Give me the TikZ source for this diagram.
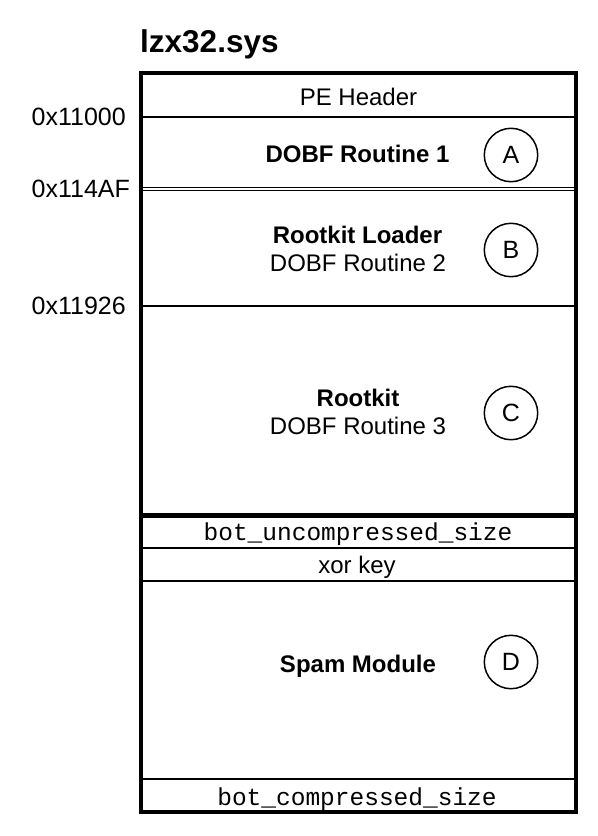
\documentclass[tikz,border=0pt]{standalone}
\usepackage{fontspec}
\setmainfont{Liberation Sans}
\setmonofont{Liberation Mono}
\begin{document}
\begin{tikzpicture}[x=1bp,y=-1bp,
  frame/.style={line width=3.5bp},
  sepline/.style={line width=2.5bp},
  thinline/.style={line width=1.6bp},
  dblline/.style={line width=1.6bp},
  txt/.style={inner sep=0pt,font=\fontsize{24bp}{28bp}\selectfont},
  btxt/.style={inner sep=0pt,font=\fontsize{24bp}{28bp}\selectfont\bfseries},
  mtxt/.style={inner sep=0pt,font=\fontsize{24.5bp}{28bp}\selectfont\ttfamily},
  tag/.style={circle,draw,line width=1.5bp,minimum size=53.4bp,inner sep=0pt,font=\fontsize{25bp}{28bp}\selectfont},
  addr/.style={anchor=west,inner sep=0pt,font=\fontsize{25bp}{28bp}\selectfont}
]
\useasboundingbox (0,0) rectangle (598,836);

% title
\node[anchor=base west,inner sep=0pt,font=\fontsize{31.5bp}{34bp}\selectfont\bfseries] (title) at (140,52.7) {lzx32.sys};

% upper box
\draw[frame] (141,73) rectangle (576,514.3);
\draw[sepline] (141,117) -- (576,117);
\draw[dblline] (141,187.5) -- (576,187.5);
\draw[dblline] (141,190.5) -- (576,190.5);
\draw[sepline] (141,306) -- (576,306);

% lower box
\draw[frame] (141,516.7) rectangle (576,812);
\draw[sepline] (141,548) -- (576,548);
\draw[thinline] (141,581) -- (576,581);
\draw[thinline] (141,779) -- (576,779);

% addresses
\node[addr] (a1) at (31.5,116.5) {0x11000};
\node[addr] (a2) at (31.5,188.5) {0x114AF};
\node[addr] (a3) at (31.5,305.5) {0x11926};

% section texts
\node[txt,anchor=base] (pe) at (358.5,105) {PE Header};
\node[btxt,anchor=base] (dobf1) at (357.5,162.7) {DOBF Routine 1};
\node[btxt,anchor=base] (loader) at (357.5,243.3) {Rootkit Loader};
\node[txt,anchor=base] (dobf2) at (358,271.7) {DOBF Routine 2};
\node[btxt,anchor=base] (rootkit) at (358,406) {Rootkit};
\node[txt,anchor=base] (dobf3) at (358,434) {DOBF Routine 3};
\node[mtxt,anchor=base] (uncomp) at (358,540.5) {bot\_uncompressed\_size};
\node[txt,anchor=base] (xor) at (357,573) {xor key};
\node[btxt,anchor=base] (spam) at (358,672.5) {Spam Module};
\node[mtxt,anchor=base] (comp) at (357,805) {bot\_compressed\_size};

% circled tags
\node[tag] (tA) at (511,155) {A};
\node[tag] (tB) at (511,250) {B};
\node[tag] (tC) at (511,413) {C};
\node[tag] (tD) at (511,662) {D};
\end{tikzpicture}
\end{document}
